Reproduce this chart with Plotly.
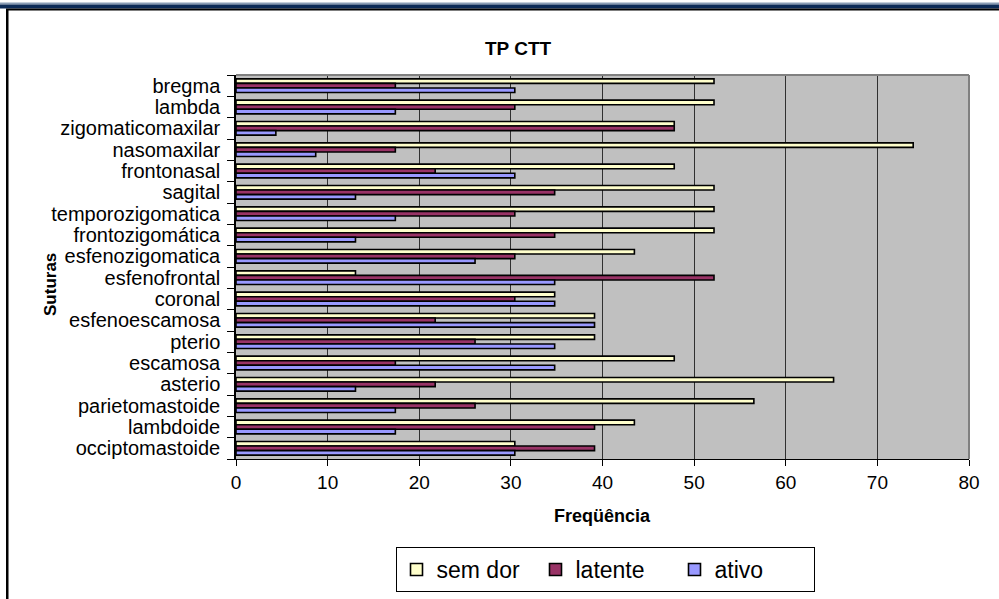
import plotly.graph_objects as go

categories = ["bregma", "lambda", "zigomaticomaxilar", "nasomaxilar", "frontonasal",
              "sagital", "temporozigomatica", "frontozigomática", "esfenozigomatica",
              "esfenofrontal", "coronal", "esfenoescamosa", "pterio", "escamosa",
              "asterio", "parietomastoide", "lambdoide", "occiptomastoide"]

sem_dor = [52.17, 52.17, 47.83, 73.91, 47.83, 52.17, 52.17, 52.17, 43.48,
           13.04, 34.78, 39.13, 39.13, 47.83, 65.22, 56.52, 43.48, 30.43]
latente = [17.39, 30.43, 47.83, 17.39, 21.74, 34.78, 30.43, 34.78, 30.43,
           52.17, 30.43, 21.74, 26.09, 17.39, 21.74, 26.09, 39.13, 39.13]
ativo = [30.43, 17.39, 4.35, 8.70, 30.43, 13.04, 17.39, 13.04, 26.09,
         34.78, 34.78, 39.13, 34.78, 34.78, 13.04, 17.39, 17.39, 30.43]

x_ticks = [0, 10, 20, 30, 40, 50, 60, 70, 80]

W, H = 999, 599
L, R, T, B = 236, 969, 75, 459
PW, PH = R - L, B - T


def px(p):
    return (p - L) / PW


def py(q):
    return (B - q) / PH


FONT = "Liberation Sans, Arial, sans-serif"

fig = go.Figure()
series = [("sem dor", sem_dor, "#FFFFCC"), ("latente", latente, "#993366"), ("ativo", ativo, "#9999FF")]
for name, vals, col in series:
    fig.add_trace(go.Bar(
        y=categories, x=vals, name=name, orientation="h",
        marker=dict(color=col, line=dict(color="black", width=1.6)),
    ))

shapes = [
    # top decorative band
    dict(type="rect", xref="paper", yref="paper", x0=px(0), x1=px(W), y0=py(4.5), y1=py(2.5),
         fillcolor="#8A9DB5", line=dict(width=0), layer="above"),
    dict(type="rect", xref="paper", yref="paper", x0=px(0), x1=px(W), y0=py(8.5), y1=py(4.5),
         fillcolor="#0C2B57", line=dict(width=0), layer="above"),
    dict(type="rect", xref="paper", yref="paper", x0=px(6), x1=px(W), y0=py(10.5), y1=py(8.5),
         fillcolor="black", line=dict(width=0), layer="above"),
    # left frame line
    dict(type="rect", xref="paper", yref="paper", x0=px(6), x1=px(8.5), y0=py(599), y1=py(9),
         fillcolor="black", line=dict(width=0), layer="above"),
    # plot area gray border top / right
    dict(type="line", xref="paper", yref="paper", x0=0, x1=1, y0=1, y1=1,
         line=dict(color="#808080", width=2), layer="above"),
    dict(type="line", xref="paper", yref="paper", x0=1, x1=1, y0=0, y1=1,
         line=dict(color="#808080", width=2), layer="above"),
]

annotations = [
    dict(text="<b>TP CTT</b>", xref="paper", yref="paper", x=px(518), y=py(48),
         xanchor="center", yanchor="middle", showarrow=False,
         font=dict(family=FONT, size=19, color="black")),
    dict(text="<b>Freqüência</b>", xref="paper", yref="paper", x=0.5, y=py(516),
         xanchor="center", yanchor="middle", showarrow=False,
         font=dict(family=FONT, size=18, color="black")),
    dict(text="<b>Suturas</b>", xref="paper", yref="paper", x=px(50), y=py(285),
         xanchor="center", yanchor="middle", showarrow=False, textangle=-90,
         font=dict(family=FONT, size=17, color="black")),
]

fig.update_layout(
    width=W, height=H,
    margin=dict(l=L, r=W - R, t=T, b=H - B, pad=0, autoexpand=False),
    paper_bgcolor="white", plot_bgcolor="#C0C0C0",
    barmode="group", bargap=0.36, bargroupgap=0,
    font=dict(family=FONT, size=18, color="black"),
    showlegend=True,
    legend=dict(orientation="h", x=px(605), y=py(547), xanchor="center", yanchor="top",
                bordercolor="black", borderwidth=1, bgcolor="white",
                font=dict(family=FONT, size=23, color="black"),
                entrywidth=94, itemwidth=30, traceorder="normal"),
    shapes=shapes, annotations=annotations,
)

fig.update_xaxes(range=[0, 80], tickvals=x_ticks, ticktext=[str(v) for v in x_ticks],
                 showgrid=True, gridcolor="#303030", gridwidth=1,
                 showline=True, linecolor="black", linewidth=1,
                 ticks="outside", ticklen=6, tickcolor="black", automargin=False,
                 tickfont=dict(family=FONT, size=19), zeroline=False, fixedrange=True)
fig.update_yaxes(categoryorder="array", categoryarray=categories, autorange="reversed",
                 tickmode="array", tickvals=categories, ticktext=categories,
                 showgrid=False, showline=True, linecolor="black", linewidth=1.5,
                 ticks="outside", ticklen=7, tickcolor="black", tickson="boundaries",
                 ticklabelstandoff=10, automargin=False,
                 tickfont=dict(family=FONT, size=20), fixedrange=True)

fig.write_html("out.html")
